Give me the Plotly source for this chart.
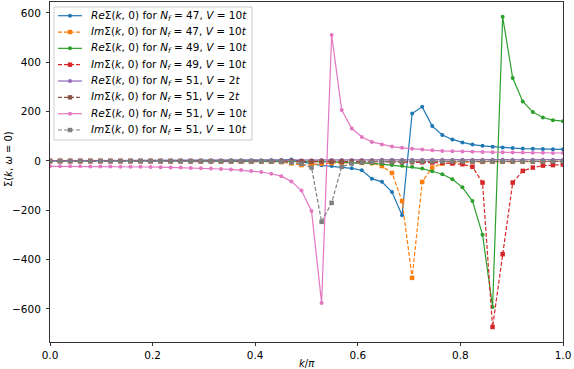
import plotly.graph_objects as go

# k/pi grid: 52 momenta n/51
k = [n / 51 for n in range(52)]

re_47_v10 = [0.5, 0.5, 0.5, 0.5, 0.5, 0.5, 0.5, 0.6, 0.6, 0.6,
             0.7, 0.7, 0.8, 0.8, 0.9, 0.9, 1.0, 1.0, 1.2, 1.4,
             1.6, 2.0, 2.5, 3.5, 6.0, -4, -12, -18, -21, -25,
             -30, -38, -72, -85, -126, -220, 192, 219, 141, 105,
             87, 75, 66, 61, 57, 54, 52, 50, 49, 48,
             47.5, 47]
im_47_v10 = [-0.5, -0.5, -0.5, -0.5, -0.6, -0.6, -0.6, -0.7, -0.7, -0.8,
             -0.8, -0.9, -0.9, -1.0, -1.1, -1.2, -1.3, -1.4, -1.5, -1.7,
             -1.9, -2.2, -3, -5, -10, -17, -15, -11, -9, -8,
             -8, -8, -9, -21, -49, -163, -474, -85, -27, -11,
             -7, -5, -4.5, -4, -3.5, -3.2, -3, -2.8, -2.6, -2.5,
             -2.4, -2.3]
re_49_v10 = [-0.5, -0.5, -0.5, -0.5, -0.5, -0.6, -0.6, -0.6, -0.7, -0.7,
             -0.8, -0.8, -0.9, -0.9, -1.0, -1.0, -1.1, -1.2, -1.3, -1.4,
             -1.5, -1.6, -1.8, -2.0, -2.2, -2.4, -2.7, -3, -4, -5,
             -6, -8, -10, -13, -17, -20, -24, -31, -42, -54,
             -74, -107, -163, -299, -592, 584, 336, 241, 198, 176,
             165, 161]
im_49_v10 = [-0.5, -0.5, -0.5, -0.5, -0.5, -0.5, -0.6, -0.6, -0.6, -0.7,
             -0.7, -0.7, -0.8, -0.8, -0.8, -0.9, -0.9, -1.0, -1.0, -1.1,
             -1.1, -1.2, -1.3, -1.4, -1.5, -1.6, -1.7, -1.8, -1.9, -2.1,
             -2.3, -2.5, -3, -3.5, -4, -4.5, -5, -5.5, -6.5, -8,
             -10.6, -13.4, -24, -88, -673, -378, -88, -40.5, -27, -19,
             -17, -15]
re_51_v2 = [1.0, 1.0, 1.0, 1.0, 1.0, 1.1, 1.1, 1.1, 1.2, 1.2,
            1.3, 1.3, 1.4, 1.4, 1.5, 1.5, 1.6, 1.7, 1.8, 1.9,
            2.0, 2.1, 2.2, 2.4, 2.6, 2.8, 3.0, 3.2, 3.4, 3.6,
            3.8, 4.0, 4.1, 4.2, 4.3, 4.4, 4.5, 4.6, 4.6, 4.7,
            4.7, 4.8, 4.8, 4.8, 4.9, 4.9, 4.9, 5.0, 5.0, 5.0,
            5.0, 5.0]
im_51_v2 = [-0.5, -0.5, -0.5, -0.5, -0.5, -0.5, -0.5, -0.6, -0.6, -0.6,
            -0.6, -0.7, -0.7, -0.7, -0.8, -0.8, -0.8, -0.9, -0.9, -1.0,
            -1.0, -1.1, -1.1, -1.2, -1.3, -1.4, -1.5, -1.5, -1.6, -1.6,
            -1.7, -1.7, -1.8, -1.8, -1.8, -1.9, -1.9, -1.9, -2.0, -2.0,
            -2.0, -2.0, -2.0, -2.0, -2.0, -2.0, -2.0, -2.0, -2.0, -2.0,
            -2.0, -2.0]
re_51_v10 = [-22, -22, -22, -22.2, -22.4, -22.6, -23, -23.3, -23.7, -24.2,
             -24.8, -25.5, -26.3, -27.2, -28.3, -29.5, -31, -32.8, -34.5, -37,
             -40.5, -45, -52, -62, -83, -120, -203, -576, 510, 206,
             131, 97, 77, 66.5, 58, 53, 49, 46, 43, 40.5,
             39, 38, 37, 36, 35.5, 35, 34.5, 34, 33.5, 33,
             32.5, 32]
im_51_v10 = [-1.0, -1.0, -1.0, -1.0, -1.0, -1.0, -1.0, -1.0, -1.0, -1.0,
             -1.0, -1.0, -1.0, -1.0, -1.1, -1.1, -1.1, -1.2, -1.2, -1.3,
             -1.4, -1.5, -2, -3.5, -6.5, -12, -27, -247, -170, -24,
             -10.6, -6.5, -4, -3, -2.5, -2.2, -2.0, -1.9, -1.8, -1.7,
             -1.7, -1.6, -1.6, -1.5, -1.5, -1.5, -1.5, -1.5, -1.5, -1.5,
             -1.5, -1.5]

series = [
    ("Re", "47", "10", re_47_v10, "#1f77b4"),
    ("Im", "47", "10", im_47_v10, "#ff7f0e"),
    ("Re", "49", "10", re_49_v10, "#2ca02c"),
    ("Im", "49", "10", im_49_v10, "#d62728"),
    ("Re", "51", "2", re_51_v2, "#9467bd"),
    ("Im", "51", "2", im_51_v2, "#8c564b"),
    ("Re", "51", "10", re_51_v10, "#e377c2"),
    ("Im", "51", "10", im_51_v10, "#7f7f7f"),
]

FONT = "DejaVu Sans"
W, H = 574, 369
L, R, T, B = 50, 11, 2, 27
PW, PH = W - L - R, H - T - B


def px(x):
    # figure pixel -> paper x
    return (x - L) / PW


def py(y):
    # figure pixel -> paper y
    return (H - B - y) / PH


fig = go.Figure()
shapes, notes = [], []

# legend frame, matplotlib style
shapes.append(dict(type="rect", xref="paper", yref="paper",
                   x0=px(54), x1=px(252), y0=py(140), y1=py(7),
                   fillcolor="rgba(255,255,255,0.8)", line=dict(color="#ccc", width=1),
                   layer="above"))

for i, (part, nf, v, vals, c) in enumerate(series):
    is_re = part == "Re"
    dash = "solid" if is_re else "4px,2px"
    fig.add_trace(go.Scatter(
        x=k, y=vals, mode="lines+markers", showlegend=False,
        line=dict(color=c, width=1.2, dash=dash),
        marker=dict(symbol="circle" if is_re else "square",
                    size=4 if is_re else 4.5, color=c, line=dict(width=0)),
    ))

    # legend entry
    yc = 15.7 + i * 16.33
    shapes.append(dict(type="line", xref="paper", yref="paper", layer="above",
                       x0=px(58), x1=px(82), y0=py(yc), y1=py(yc),
                       line=dict(color=c, width=1.2, dash=dash)))
    r = 2 if is_re else 2.2
    shapes.append(dict(type="circle" if is_re else "rect", xref="paper", yref="paper",
                       layer="above", x0=px(70 - r), x1=px(70 + r),
                       y0=py(yc + r), y1=py(yc - r), fillcolor=c, line=dict(width=0)))
    label = (f"<i>{part}</i>Σ(<i>k</i>, 0) for <i>N<sub>f</sub></i> = {nf}, "
             f"<i>V</i> = {v}<i>t</i>")
    notes.append(dict(text=label, xref="paper", yref="paper", x=px(89), y=py(yc),
                      xanchor="left", yanchor="middle", showarrow=False,
                      font=dict(family=FONT, size=10.5, color="black")))

# axis titles
notes.append(dict(text="<i>k</i>/<i>π</i>", xref="paper", yref="paper",
                  x=0.5, y=py(363), xanchor="center", yanchor="middle",
                  showarrow=False, font=dict(family=FONT, size=10, color="black")))
notes.append(dict(text="Σ(<i>k</i>, <i>ω</i> = 0)", xref="paper", yref="paper",
                  x=px(8), y=py(159), xanchor="center", yanchor="middle",
                  textangle=-90, showarrow=False,
                  font=dict(family=FONT, size=10, color="black")))

axis = dict(showline=True, linecolor="#333", linewidth=1, mirror=True,
            ticks="outside", ticklen=3, tickcolor="#333", showgrid=False,
            zeroline=False, automargin=False,
            tickfont=dict(family=FONT, size=10.5, color="black"))

fig.update_layout(
    width=W, height=H,
    margin=dict(l=L, r=R, t=T, b=B),
    paper_bgcolor="white", plot_bgcolor="white",
    font=dict(family=FONT, size=10, color="black"),
    showlegend=False, shapes=shapes, annotations=notes,
)
fig.update_xaxes(**axis, range=[0, 1], tickvals=[0, 0.2, 0.4, 0.6, 0.8, 1.0],
                 ticktext=["0.0", "0.2", "0.4", "0.6", "0.8", "1.0"])
fig.update_yaxes(**axis, range=[-734, 644], ticklabelstandoff=3,
                 tickvals=[-600, -400, -200, 0, 200, 400, 600],
                 ticktext=["−600", "−400", "−200", "0", "200", "400", "600"])

# the page body has a default 8px margin; drop it so the figure sits at the corner
fig.write_html("out.html", config={"displayModeBar": False},
               post_script="document.body.style.margin = '0';")
